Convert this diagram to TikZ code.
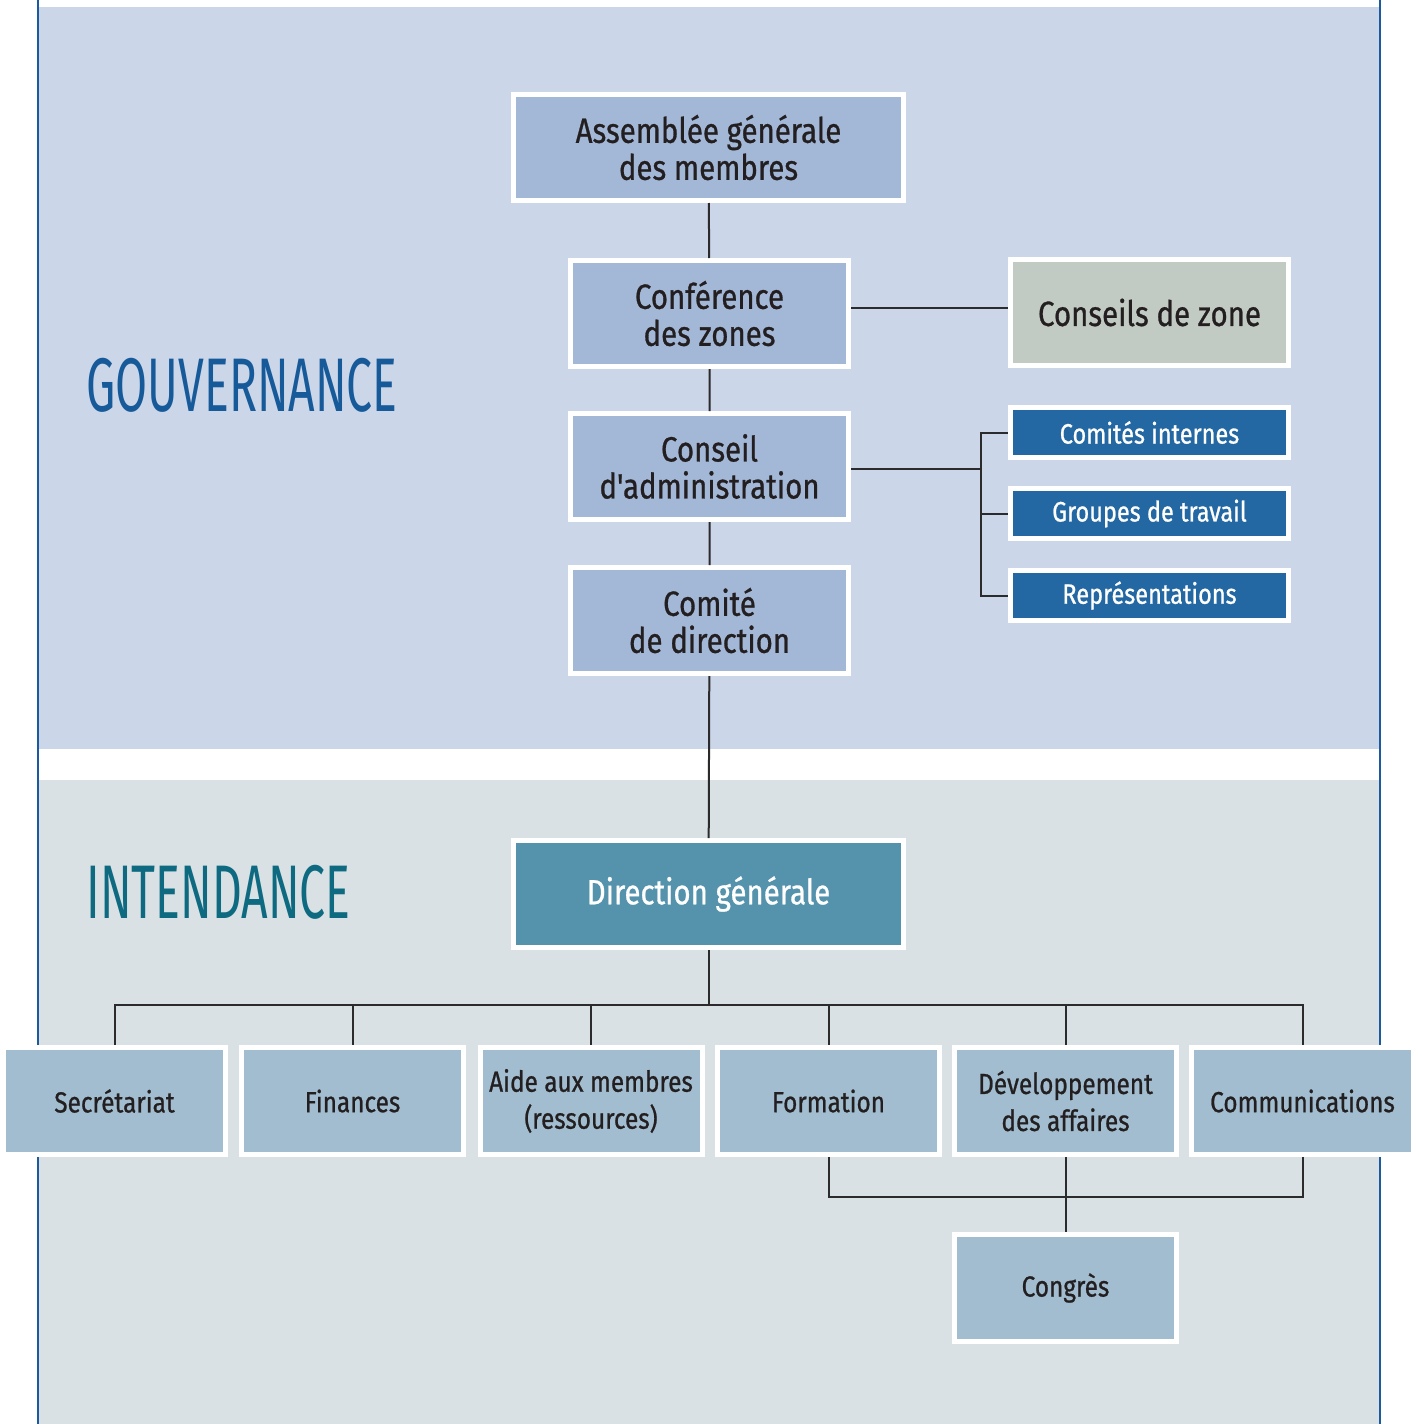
\documentclass[tikz,border=0pt]{standalone}
\usepackage{fontspec}
\setmainfont{Fira Sans}
\newfontfamily\boxfont[FakeStretch=0.84, FakeBold=0.8]{Fira Sans}
\newfontfamily\titlefont[FakeStretch=0.61]{Fira Sans}
\usetikzlibrary{positioning,calc}

\definecolor{govband}{HTML}{CBD6E8}
\definecolor{intband}{HTML}{D9E1E4}
\definecolor{govfill}{HTML}{A3B7D7}
\definecolor{zonefill}{HTML}{C2CBC3}
\definecolor{comfill}{HTML}{2368A2}
\definecolor{dgfill}{HTML}{5592AC}
\definecolor{servfill}{HTML}{A1BDCF}
\definecolor{govtext}{HTML}{175A9A}
\definecolor{inttext}{HTML}{0E6A80}
\definecolor{boxtext}{HTML}{231F20}
\definecolor{rule}{HTML}{1B5A9E}
\definecolor{link}{HTML}{2B2B2B}

\begin{document}
\begin{tikzpicture}[
    x=0.5pt, y=-0.5pt,
    box/.style={draw=white, line width=2.5pt, align=center, text=boxtext, inner sep=0pt},
    gov/.style={box, fill=govfill, minimum width=139pt, minimum height=53pt, font=\boxfont\fontsize{17.5}{18.5}\selectfont},
    comite/.style={box, fill=comfill, text=white, minimum width=139pt, minimum height=25pt, font=\boxfont\fontsize{14}{15}\selectfont},
    service/.style={box, fill=servfill, minimum width=111pt, minimum height=53.5pt, font=\boxfont\fontsize{14.5}{18.5}\selectfont},
    title/.style={anchor=base west, inner sep=0pt, font=\titlefont\fontsize{38}{40}\selectfont},
    edge/.style={draw=link, line width=1pt}
]
\useasboundingbox (0,0) rectangle (1421,1424);

% Bands
\fill[govband] (38,7) rectangle (1380,749);
\fill[intband] (38,780) rectangle (1380,1424);
\draw[rule, line width=1pt] (38,0) -- (38,1424);
\draw[rule, line width=1pt] (1380,0) -- (1380,1424);

% Section titles
\node[title, text=govtext] (gouv) at (86,411) {GOUVERNANCE};
\node[title, text=inttext] (inten) at (86,918) {INTENDANCE};

% Governance
\node[gov, minimum width=195pt] (asm) at (708.5,147.5) {Assemblée générale\\des membres};
\node[gov] (conf) at (709.5,313.5) {Conférence\\des zones};
\node[gov] (admin) at (709.5,466.5) {Conseil\\d'administration};
\node[gov] (codir) at (709.5,620.5) {Comité\\de direction};
\node[gov, fill=zonefill] (zone) at (1149.5,312.5) {Conseils de zone};

\node[comite] (internes) at (1149.5,432.5) {Comités internes};
\node[comite] (groupes) at (1149.5,513.5) {Groupes de travail};
\node[comite] (repres) at (1149.5,595.5) {Représentations};

% Stewardship
\node[gov, fill=dgfill, text=white, minimum width=195pt, minimum height=53.5pt] (dg) at (708.5,894) {Direction générale};

\node[service] (secr) at (114.5,1101) {Secrétariat};
\node[service] (fin) at (352.5,1101) {Finances};
\node[service] (aide) at (591,1101) {Aide aux membres\\(ressources)};
\node[service] (form) at (828.5,1101) {Formation};
\node[service] (dev) at (1065.5,1101) {Développement\\des affaires};
\node[service] (comm) at (1302.5,1101) {Communications};
\node[service] (congres) at (1065.5,1288) {Congrès};

% Links
\coordinate (zlink) at (0,308);
\coordinate (bus) at (981,469);
\coordinate (split) at (708.5,1005);
\coordinate (join) at (1065.5,1197);

\draw[edge] (asm) -- (conf) -- (admin) -- (codir) -- (dg);
\draw[edge] (conf.east |- zlink) -- (zone.west |- zlink);
\draw[edge] (admin.east |- bus) -- (bus);
\draw[edge] (internes.west) -| (bus) |- (repres.west);
\draw[edge] (groupes.west) -- (groupes.west -| bus);

\draw[edge] (dg.south) -- (split);
\foreach \s in {secr,fin,aide,form,dev,comm}
    \draw[edge] (split) -| (\s.north);
\foreach \s in {form,comm}
    \draw[edge] (\s.south) |- (join);
\draw[edge] (dev.south) -- (congres.north);

\end{tikzpicture}
\end{document}
